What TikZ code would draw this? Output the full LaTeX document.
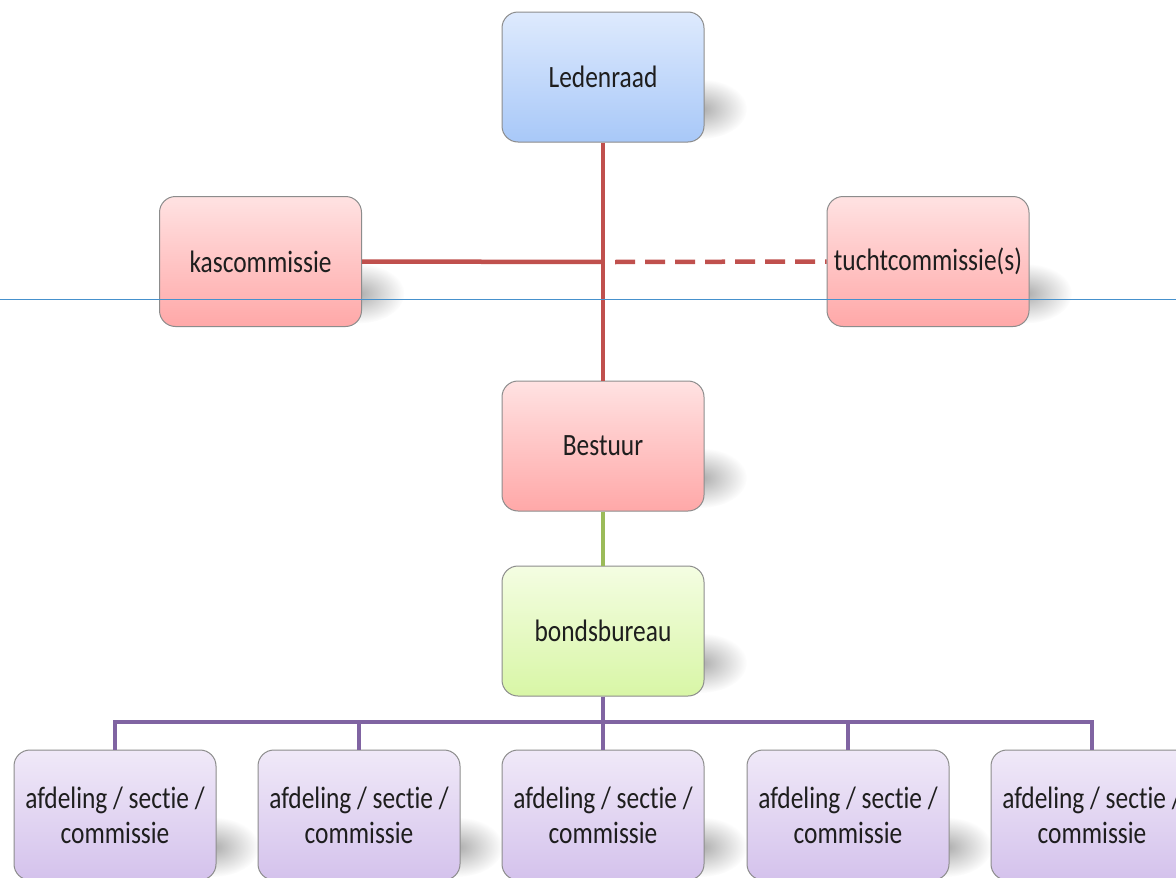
\documentclass[tikz,border=0pt]{standalone}
\usepackage{fontspec}
\setmainfont{Carlito}[FakeStretch=0.82, Ligatures=NoCommon]
\usetikzlibrary{fadings}
\tikzfading[name=softblob, inner color=transparent!0, outer color=transparent!100]
\definecolor{redline}{RGB}{192,80,77}
\definecolor{greenline}{RGB}{155,187,89}
\definecolor{purpleline}{RGB}{128,100,162}
\definecolor{boxborder}{RGB}{140,140,140}
\definecolor{guide}{RGB}{70,145,205}
\definecolor{txt}{RGB}{30,30,30}
\begin{document}
\begin{tikzpicture}[x=1pt,y=-1pt,
  box/.style={draw=boxborder, line width=1pt, rounded corners=16pt,
    minimum width=202pt, minimum height=130pt, inner sep=2pt,
    font=\fontsize{31}{35}\selectfont, text=txt, align=center},
  bluebox/.style={box, top color={rgb,255:red,222;green,234;blue,253}, bottom color={rgb,255:red,168;green,200;blue,248}},
  redbox/.style={box, top color={rgb,255:red,255;green,226;blue,226}, bottom color={rgb,255:red,255;green,168;blue,168}},
  greenbox/.style={box, top color={rgb,255:red,244;green,253;blue,226}, bottom color={rgb,255:red,216;green,246;blue,166}},
  purplebox/.style={box, top color={rgb,255:red,240;green,233;blue,248}, bottom color={rgb,255:red,212;green,194;blue,236}},
  shadowblob/.style={fill=black, fill opacity=0.32, path fading=softblob},
  redcon/.style={draw=redline, line width=4.5pt},
  greencon/.style={draw=greenline, line width=4pt},
  purplecon/.style={draw=purpleline, line width=4.5pt, line join=miter}
]
\clip (0,0) rectangle (1176,878);
\fill[white] (0,0) rectangle (1176,878);

\coordinate (j) at (603,262);
\coordinate (pj) at (603,722);

% shadows (behind the boxes)
\foreach \cx/\cy in {603/77, 260.5/261.5, 928/261.5, 603/446, 603/631, 115/815, 359/815, 603/815, 848/815, 1092/815}{
  \fill[shadowblob] (\cx+98,\cy+32) ellipse (46 and 30);
}

\node[bluebox] (led) at (603,77) {Ledenraad};
\node[redbox] (kas) at (260.5,261.5) {kascommissie};
\node[redbox, text width=198pt] (tucht) at (928,261.5) {tuchtcommissie(s)};
\node[redbox] (best) at (603,446) {Bestuur};
\node[greenbox] (bb) at (603,631) {bondsbureau};
\node[purplebox] (a1) at (115,815) {afdeling / sectie /\\commissie};
\node[purplebox] (a2) at (359,815) {afdeling / sectie /\\commissie};
\node[purplebox] (a3) at (603,815) {afdeling / sectie /\\commissie};
\node[purplebox] (a4) at (848,815) {afdeling / sectie /\\commissie};
\node[purplebox] (a5) at (1092,815) {afdeling / sectie /\\commissie};

\path[redcon] (led.south) -- (best.north);
\path[redcon] (kas.east) -- (j);
\path[redcon, dash pattern=on 20pt off 10pt] ([xshift=12pt]j) -- (tucht.west);
\path[greencon] (best.south) -- (bb.north);
\path[purplecon] (bb.south) -- (pj);
\path[purplecon] (pj) -| (a1.north);
\path[purplecon] (pj) -| (a2.north);
\path[purplecon] (pj) -- (a3.north);
\path[purplecon] (pj) -| (a4.north);
\path[purplecon] (pj) -| (a5.north);

\coordinate (gl) at (0,299.5);
\coordinate (gr) at (1176,299.5);
\draw[guide, line width=1pt] (gl) -- (gr);
\end{tikzpicture}
\end{document}
